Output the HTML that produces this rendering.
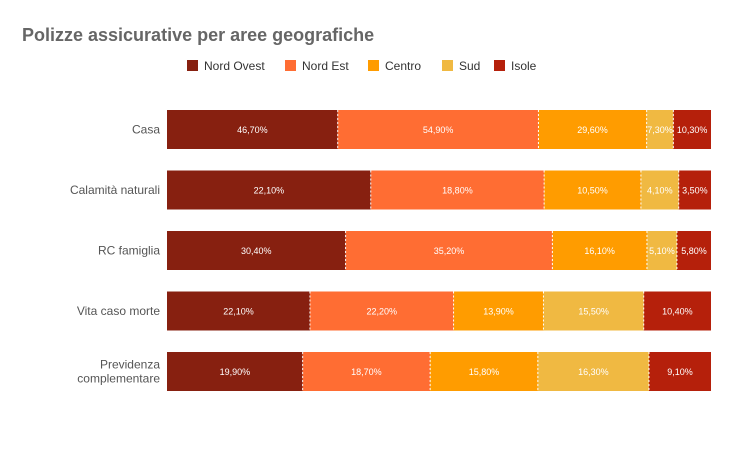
<!DOCTYPE html>
<html><head><meta charset="utf-8"><style>
body{margin:0;background:#fff;font-family:"Liberation Sans",sans-serif}
</style></head><body>
<svg id="c" width="735" height="455" xmlns="http://www.w3.org/2000/svg">
<text x="22" y="41" font-size="18" font-weight="bold" fill="#666">Polizze assicurative per aree geografiche</text>
<g id="legend"></g>
<g id="bars"></g>
</svg>
<script>
const categories=["Casa","Calamità naturali","RC famiglia","Vita caso morte","Previdenza complementare"];
const seriesNames=["Nord Ovest","Nord Est","Centro","Sud","Isole"];
const nordOvest=[46.7,22.1,30.4,22.1,19.9];
const nordEst=[54.9,18.8,35.2,22.2,18.7];
const centro=[29.6,10.5,16.1,13.9,15.8];
const sud=[7.3,4.1,5.1,15.5,16.3];
const isole=[10.3,3.5,5.8,10.4,9.1];
const series=[nordOvest,nordEst,centro,sud,isole];
const colors=["#872010","#ff6d33","#ff9c00","#f0b942","#b5200b"];
const NS="http://www.w3.org/2000/svg";
const x0=167,x1=711,yTop=110,step=60.5,bh=39;
function xs(frac){return x0+frac*(x1-x0);}
function yb(i){return yTop+i*step;}
function mk(t,a,p){const e=document.createElementNS(NS,t);for(const k in a)e.setAttribute(k,a[k]);p.appendChild(e);return e;}
const fmt=v=>v.toFixed(2).replace('.',',')+'%';
const lg=document.getElementById('legend');
const lx=[187,285,368,442,494];
seriesNames.forEach((n,i)=>{
  const r=mk('rect',{x:lx[i],y:60,width:11,height:11,fill:colors[i]},lg);
  
  
  const t=mk('text',{x:lx[i]+17,y:70,'font-size':12,fill:'#333'},lg);
  t.textContent=n;
  
  
});
const g=document.getElementById('bars');
categories.forEach((c,i)=>{
  const y=yb(i);
  const tot=series.reduce((s,a)=>s+a[i],0);
  const parts=c==="Previdenza complementare"?["Previdenza","complementare"]:[c];
  parts.forEach((p,k)=>{
    const t=mk('text',{x:160,y:y+bh/2+4+(parts.length>1?(k-0.5)*14:0),'text-anchor':'end','font-size':12,fill:'#555'},g);
    t.textContent=p;
    
    
  });
  let acc=0;
  series.forEach((arr,s)=>{
    const a=xs(acc/tot),b=xs((acc+arr[i])/tot);
    const r=mk('rect',{x:a,y:y,width:b-a,height:bh,fill:colors[s]},g);
    
    
    if(s>0){const l=mk('line',{x1:a,x2:a,y1:y,y2:y+bh,stroke:'#fff','stroke-width':1,'stroke-dasharray':'2,2'},g);
      
      }
    const t=mk('text',{x:(a+b)/2,y:y+bh/2+3.5,'text-anchor':'middle','font-size':9,fill:'#fff'},g);
    t.textContent=fmt(arr[i]);
    
    
    acc+=arr[i];
  });
});
</script>
</body></html>
